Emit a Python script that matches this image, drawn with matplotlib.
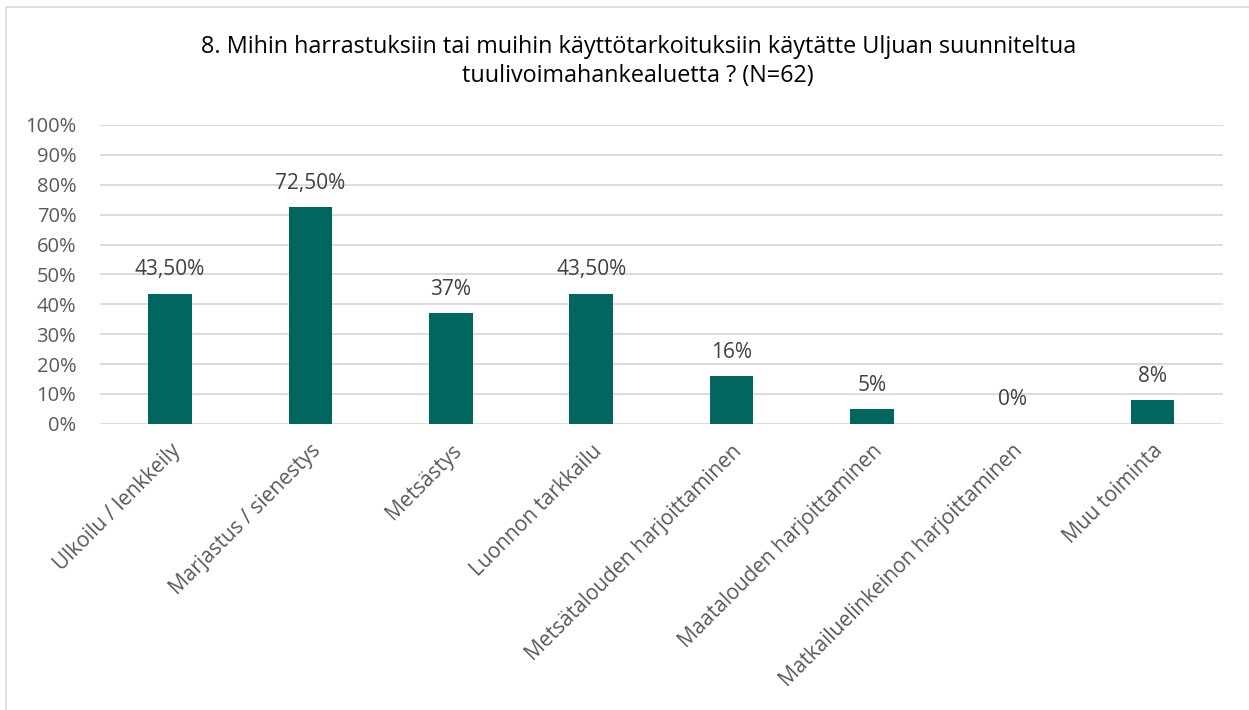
import numpy as np
import matplotlib as mpl
import matplotlib.pyplot as plt
from matplotlib.patches import Rectangle

mpl.rc('font', family=['Open Sans', 'DejaVu Sans'])

categories = ['Ulkoilu / lenkkeily', 'Marjastus / sienestys', 'Metsästys',
              'Luonnon tarkkailu', 'Metsätalouden harjoittaminen',
              'Maatalouden harjoittaminen', 'Matkailuelinkeinon harjoittaminen',
              'Muu toiminta']
values = [43.5, 72.5, 37, 43.5, 16, 5, 0, 8]
value_labels = ['43,50%', '72,50%', '37%', '43,50%', '16%', '5%', '0%', '8%']
yticks = list(range(0, 101, 10))

title = ('8. Mihin harrastuksiin tai muihin käyttötarkoituksiin käytätte Uljuan suunniteltua\n'
         'tuulivoimahankealuetta ? (N=62)')

fig = plt.figure(figsize=(12.49, 7.10), dpi=100)
# chart frame, cut off at right and bottom like the source
fig.patches.append(Rectangle((0.005, -0.1), 1.2, 1.09, transform=fig.transFigure,
                             fill=False, edgecolor='#D9D9D9', linewidth=1.2))
ax = fig.add_axes([0.080, 0.403, 0.899, 0.421])

x = np.arange(len(categories))
ax.bar(x, values, width=0.31, color='#00665F', zorder=3)

for xi, v, lab in zip(x, values, value_labels):
    ax.text(xi, v + 8, lab, ha='center', va='center', fontsize=15, color='#404040')

ax.set_ylim(0, 100)
ax.set_xlim(-0.5, len(categories) - 0.5)
ax.set_yticks(yticks)
ax.set_yticklabels([f'{t}%' for t in yticks], fontsize=14.5, color='#595959')
ax.set_xticks(x)
ax.set_xticklabels(categories, rotation=45, ha='right', rotation_mode='anchor',
                   fontsize=15, color='#595959')
ax.tick_params(axis='y', length=0, pad=17)
ax.tick_params(axis='x', length=0, pad=12)
ax.grid(axis='y', color='#D9D9D9', linewidth=1.3, zorder=0)
for s in ax.spines.values():
    s.set_visible(False)

fig.text(0.511, 0.913, title, ha='center', va='center', fontsize=16.8, color='#000000',
         linespacing=1.3)

fig.savefig('out.png', dpi=100)
